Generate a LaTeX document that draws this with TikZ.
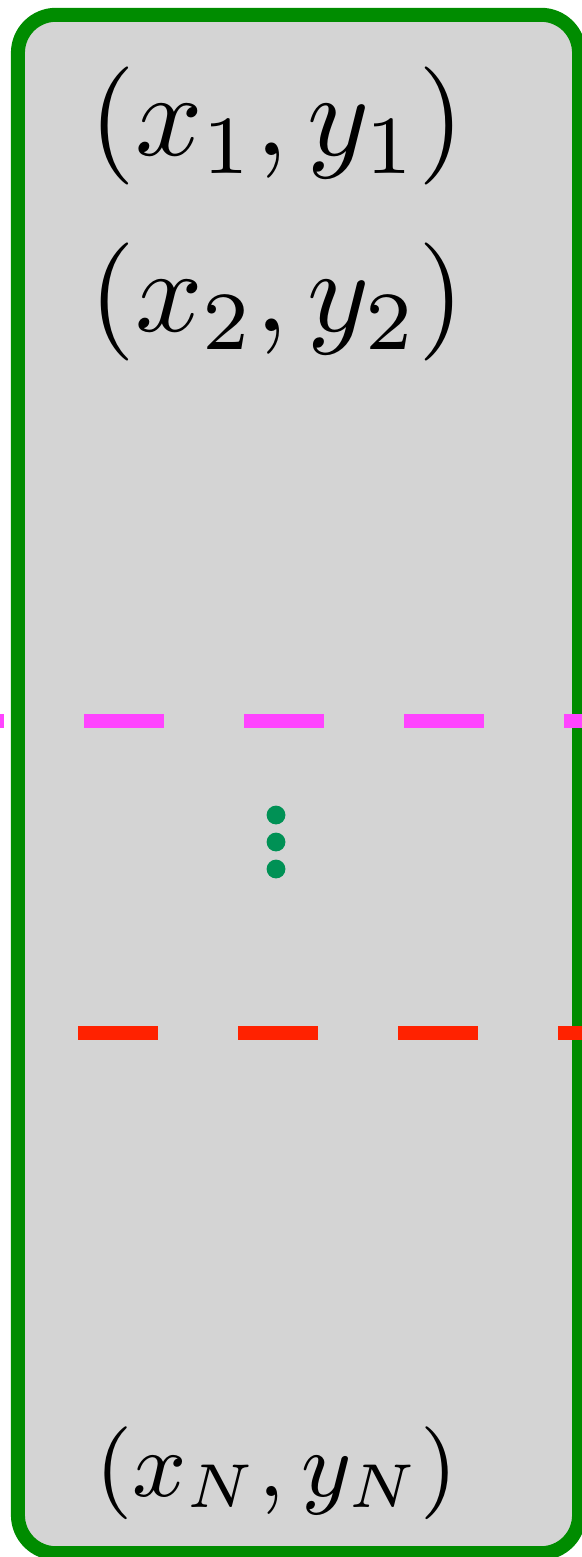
\documentclass[tikz,border=0pt]{standalone}
\usepackage{graphicx}
\usetikzlibrary{positioning}

\definecolor{boxgreen}{RGB}{0,140,0}
\definecolor{boxgray}{RGB}{212,212,212}
\definecolor{cutmagenta}{RGB}{255,68,255}
\definecolor{cutred}{RGB}{255,34,0}
\definecolor{dotgreen}{RGB}{0,145,85}

\newcommand{\bigpt}[1]{\scalebox{8.4}{$#1$}}
\newcommand{\smallpt}[1]{\scalebox{7.35}{\small$#1$}}

\begin{document}
\begin{tikzpicture}[
    x=0.025cm, y=-0.025cm,
    panel/.style={rectangle, draw=boxgreen, fill=boxgray, line width=0.35cm, rounded corners=0.95cm, minimum width=14.025cm, minimum height=38.45cm, inner sep=0pt},
    point/.style={inner sep=0pt},
    cut/.style={line width=0.35cm, dash pattern=on 2cm off 2cm},
    dot/.style={circle, fill=dotgreen, inner sep=0pt, minimum size=0.47cm}
]
\useasboundingbox (0,0) rectangle (582,1557);

% Data panel
\node[panel] (data) at (298.5, 784) {};

% Sample points
\node[point] (p1) at (277, 126) {\bigpt{(x_1, y_1)}};
\node[point] (p2) at (277, 302) {\bigpt{(x_2, y_2)}};
\node[point] (pN) at (276.5, 1473.5) {\smallpt{(x_N, y_N)}};

% Vertical ellipsis
\node[dot] (d1) at (276, 815) {};
\node[dot] (d2) at (276, 842) {};
\node[dot] (d3) at (276, 869) {};

% Cut lines
\coordinate (mstart) at (-76, 721);
\coordinate (mend) at (650, 721);
\coordinate (rstart) at (78, 1033);
\coordinate (rend) at (650, 1033);
\draw[cut, cutmagenta] (mstart) -- (mend);
\draw[cut, cutred] (rstart) -- (rend);

\end{tikzpicture}
\end{document}
